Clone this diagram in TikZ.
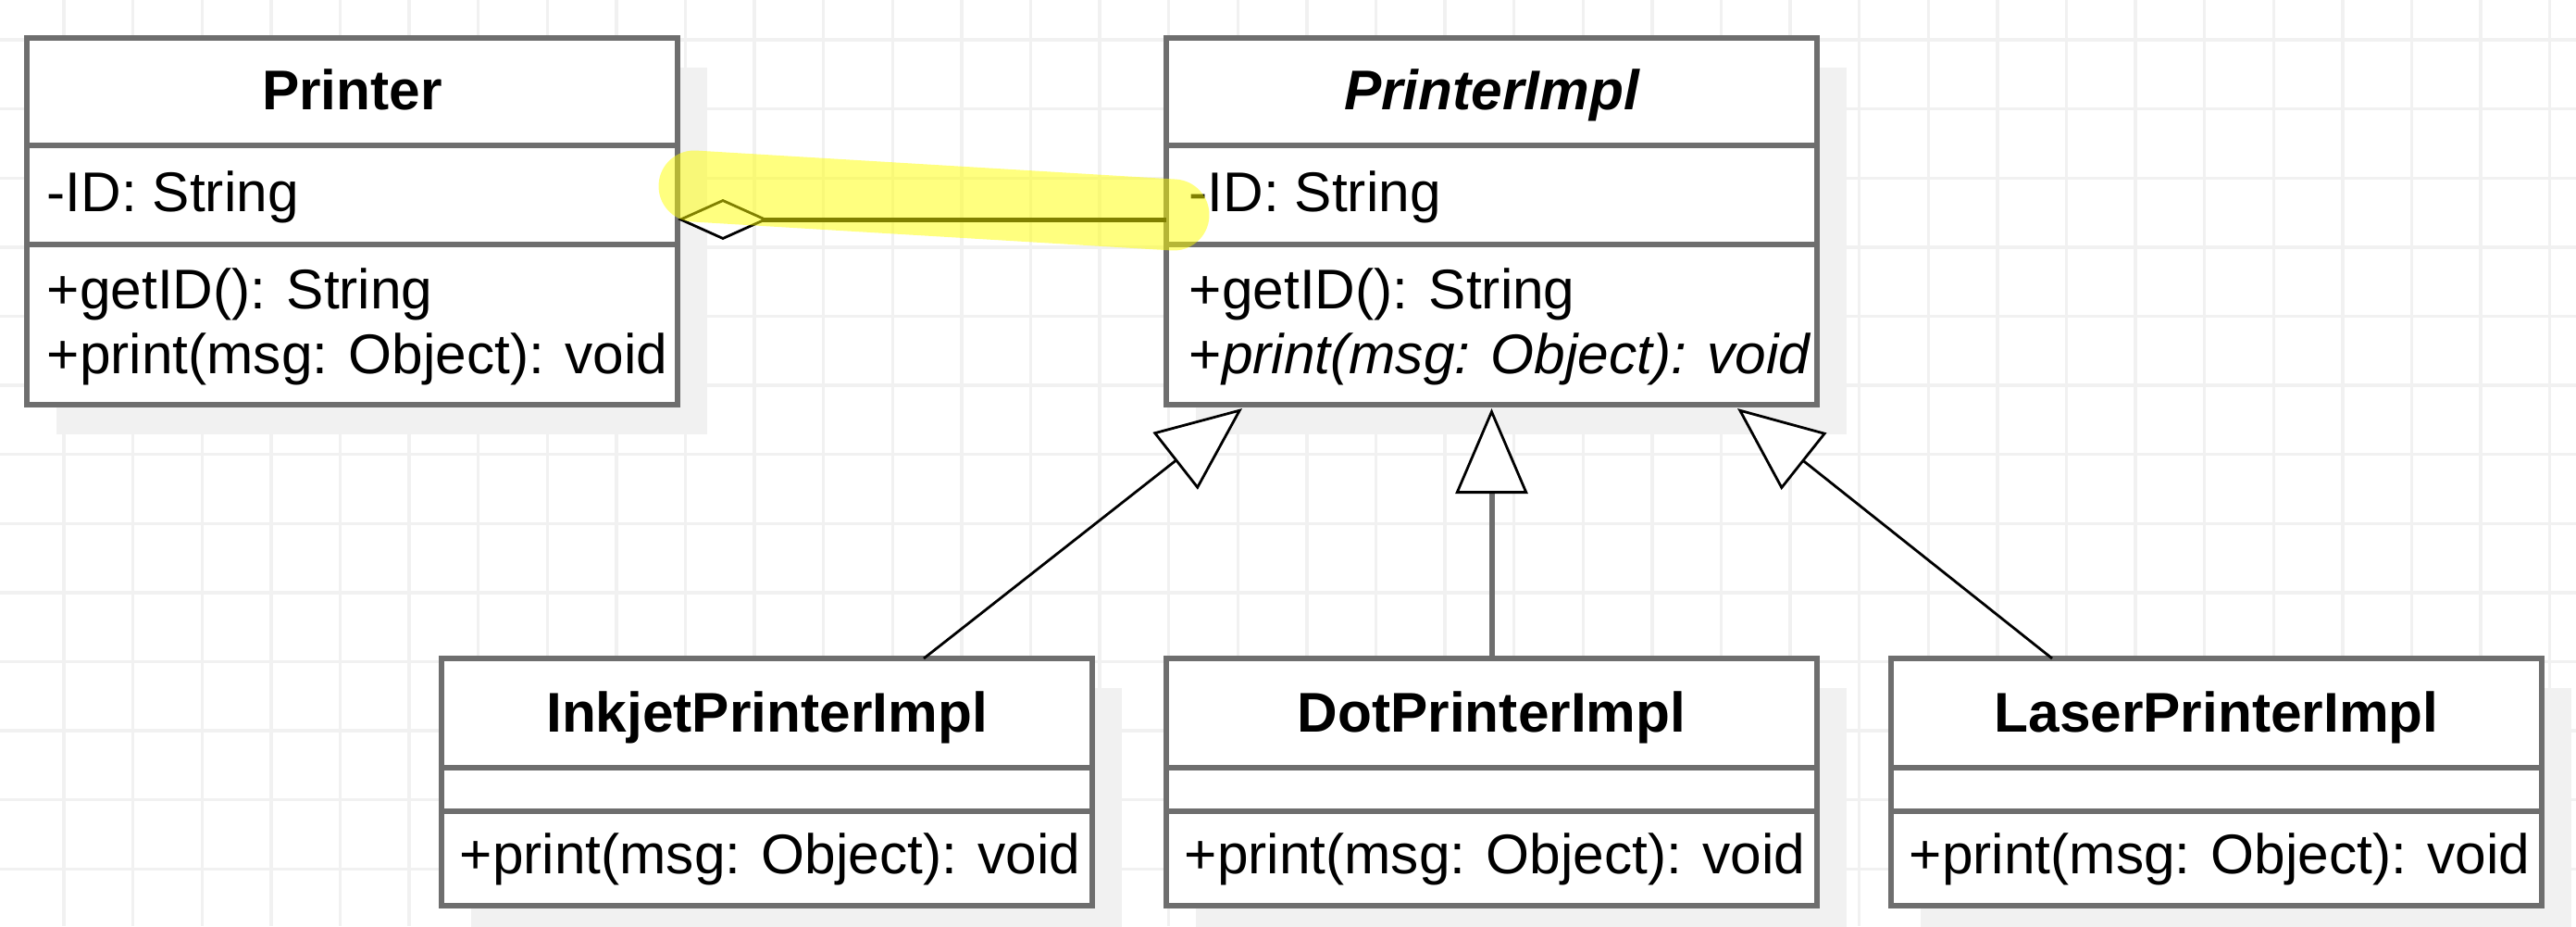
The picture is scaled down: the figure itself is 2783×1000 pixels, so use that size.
\documentclass[tikz,border=0pt]{standalone}
\usepackage{fontspec}
\setmainfont{Liberation Sans}
\usetikzlibrary{arrows.meta,calc}
\definecolor{gridc}{HTML}{F1F1F1}
\definecolor{shadowc}{HTML}{F1F1F1}
\definecolor{borderc}{HTML}{6E6E6E}
\definecolor{hlc}{HTML}{FFFF00}
\begin{document}
\begin{tikzpicture}[x=0.25pt,y=-0.25pt,
  gridline/.style={draw=gridc,line width=0.85pt},
  classbox/.style={draw=borderc,fill=white,line width=1.6pt,rectangle,inner sep=0pt,outer sep=0pt,anchor=north west,minimum width=175.75pt},
  topbox/.style={classbox,minimum height=99pt},
  lowbox/.style={classbox,minimum height=66.75pt},
  shadowfill/.style={fill=shadowc,draw=none},
  divider/.style={draw=borderc,line width=1.6pt},
  title/.style={inner sep=0pt,anchor=base,font=\fontsize{15.1}{18}\selectfont\bfseries},
  member/.style={inner sep=0pt,anchor=base west,font=\fontsize{15.1}{18}\selectfont},
  gen/.style={draw=black,line width=0.7pt,-{Triangle[length=23pt,width=19.5pt,fill=white]}},
  genv/.style={draw=borderc,line width=1.5pt,-{Triangle[length=23pt,width=19.5pt,fill=white,color=black,line width=0.7pt]}},
  agg/.style={draw=black,line width=1.25pt,{Diamond[length=24.5pt,width=11pt,fill=white,line width=0.7pt]}-},
  highlight/.style={draw=hlc,opacity=0.5,line width=19.25pt,line cap=round}
]
\useasboundingbox (0,0) rectangle (2783,1000);
\fill[white] (0,0) rectangle (2783,1000);
% grid
\foreach \i in {0,...,36} \draw[gridline] ({69+74.6*\i},0) -- ({69+74.6*\i},1000);
\foreach \j in {0,...,12} \draw[gridline] (0,{43+74.6*\j}) -- (2783,{43+74.6*\j});
% positions
\coordinate (pP) at (29,41);
\coordinate (pI) at (1260,41);
\coordinate (pK) at (477,711);
\coordinate (pD) at (1260,711);
\coordinate (pL) at (2043,711);
% shadows
\foreach \c in {pP,pI} \fill[shadowfill] ($(\c)+(32,32)$) rectangle ++(703,396);
\foreach \c in {pK,pD,pL} \fill[shadowfill] ($(\c)+(32,32)$) rectangle ++(703,267);
% boxes
\node[topbox] (printer) at (pP) {};
\node[topbox] (impl) at (pI) {};
\node[lowbox] (ink) at (pK) {};
\node[lowbox] (dot) at (pD) {};
\node[lowbox] (laser) at (pL) {};
% dividers
\foreach \b in {printer,impl} {
  \draw[divider] ($(\b.north west)+(0,116)$) -- ($(\b.north east)+(0,116)$);
  \draw[divider] ($(\b.north west)+(0,223)$) -- ($(\b.north east)+(0,223)$);
}
\foreach \b in {ink,dot,laser} {
  \draw[divider] ($(\b.north west)+(0,118)$) -- ($(\b.north east)+(0,118)$);
  \draw[divider] ($(\b.north west)+(0,165)$) -- ($(\b.north east)+(0,165)$);
}
% texts
\node[title] (printerT) at ($(printer.north)+(0,77)$) {Printer};
\node[member] (printerA) at ($(printer.north west)+(21,187)$) {-ID: String};
\node[member] (printerM1) at ($(printer.north west)+(21,292)$) {+getID(): String};
\node[member] (printerM2) at ($(printer.north west)+(21,362)$) {+print(msg: Object): void};
\node[title] (implT) at ($(impl.north)+(0,77)$) {\itshape PrinterImpl};
\node[member] (implA) at ($(impl.north west)+(24,187)$) {-ID: String};
\node[member] (implM1) at ($(impl.north west)+(24,292)$) {+getID(): String};
\node[member] (implM2) at ($(impl.north west)+(24,362)$) {+\textit{print(msg: Object): void}};
\node[title] (inkT) at ($(ink.north)+(0,79)$) {InkjetPrinterImpl};
\node[member] (inkM) at ($(ink.north west)+(19,232)$) {+print(msg: Object): void};
\node[title] (dotT) at ($(dot.north)+(0,79)$) {DotPrinterImpl};
\node[member] (dotM) at ($(dot.north west)+(19,232)$) {+print(msg: Object): void};
\node[title] (laserT) at ($(laser.north)+(0,79)$) {LaserPrinterImpl};
\node[member] (laserM) at ($(laser.north west)+(19,232)$) {+print(msg: Object): void};
% connector end points
\coordinate (inkS) at ($(ink.north west)+(521,0)$);
\coordinate (inkE) at ($(impl.south west)+(82,4)$);
\coordinate (laserS) at ($(laser.north west)+(174,0)$);
\coordinate (laserE) at ($(impl.south east)+(-86,4)$);
\coordinate (dotE) at ($(impl.south)+(0,4)$);
\coordinate (aggS) at ($(printer.north east)+(0,196)$);
\coordinate (aggE) at ($(impl.north west)+(0,196)$);
% generalizations
\draw[gen] (inkS) -- (inkE);
\draw[genv] (dot.north) -- (dotE);
\draw[gen] (laserS) -- (laserE);
% aggregation
\draw[agg] (aggS) -- (aggE);
% highlight
\coordinate (hlA) at (750,201);
\coordinate (hlB) at (1268,232);
\draw[highlight] (hlA) -- (hlB);
\end{tikzpicture}
\end{document}
